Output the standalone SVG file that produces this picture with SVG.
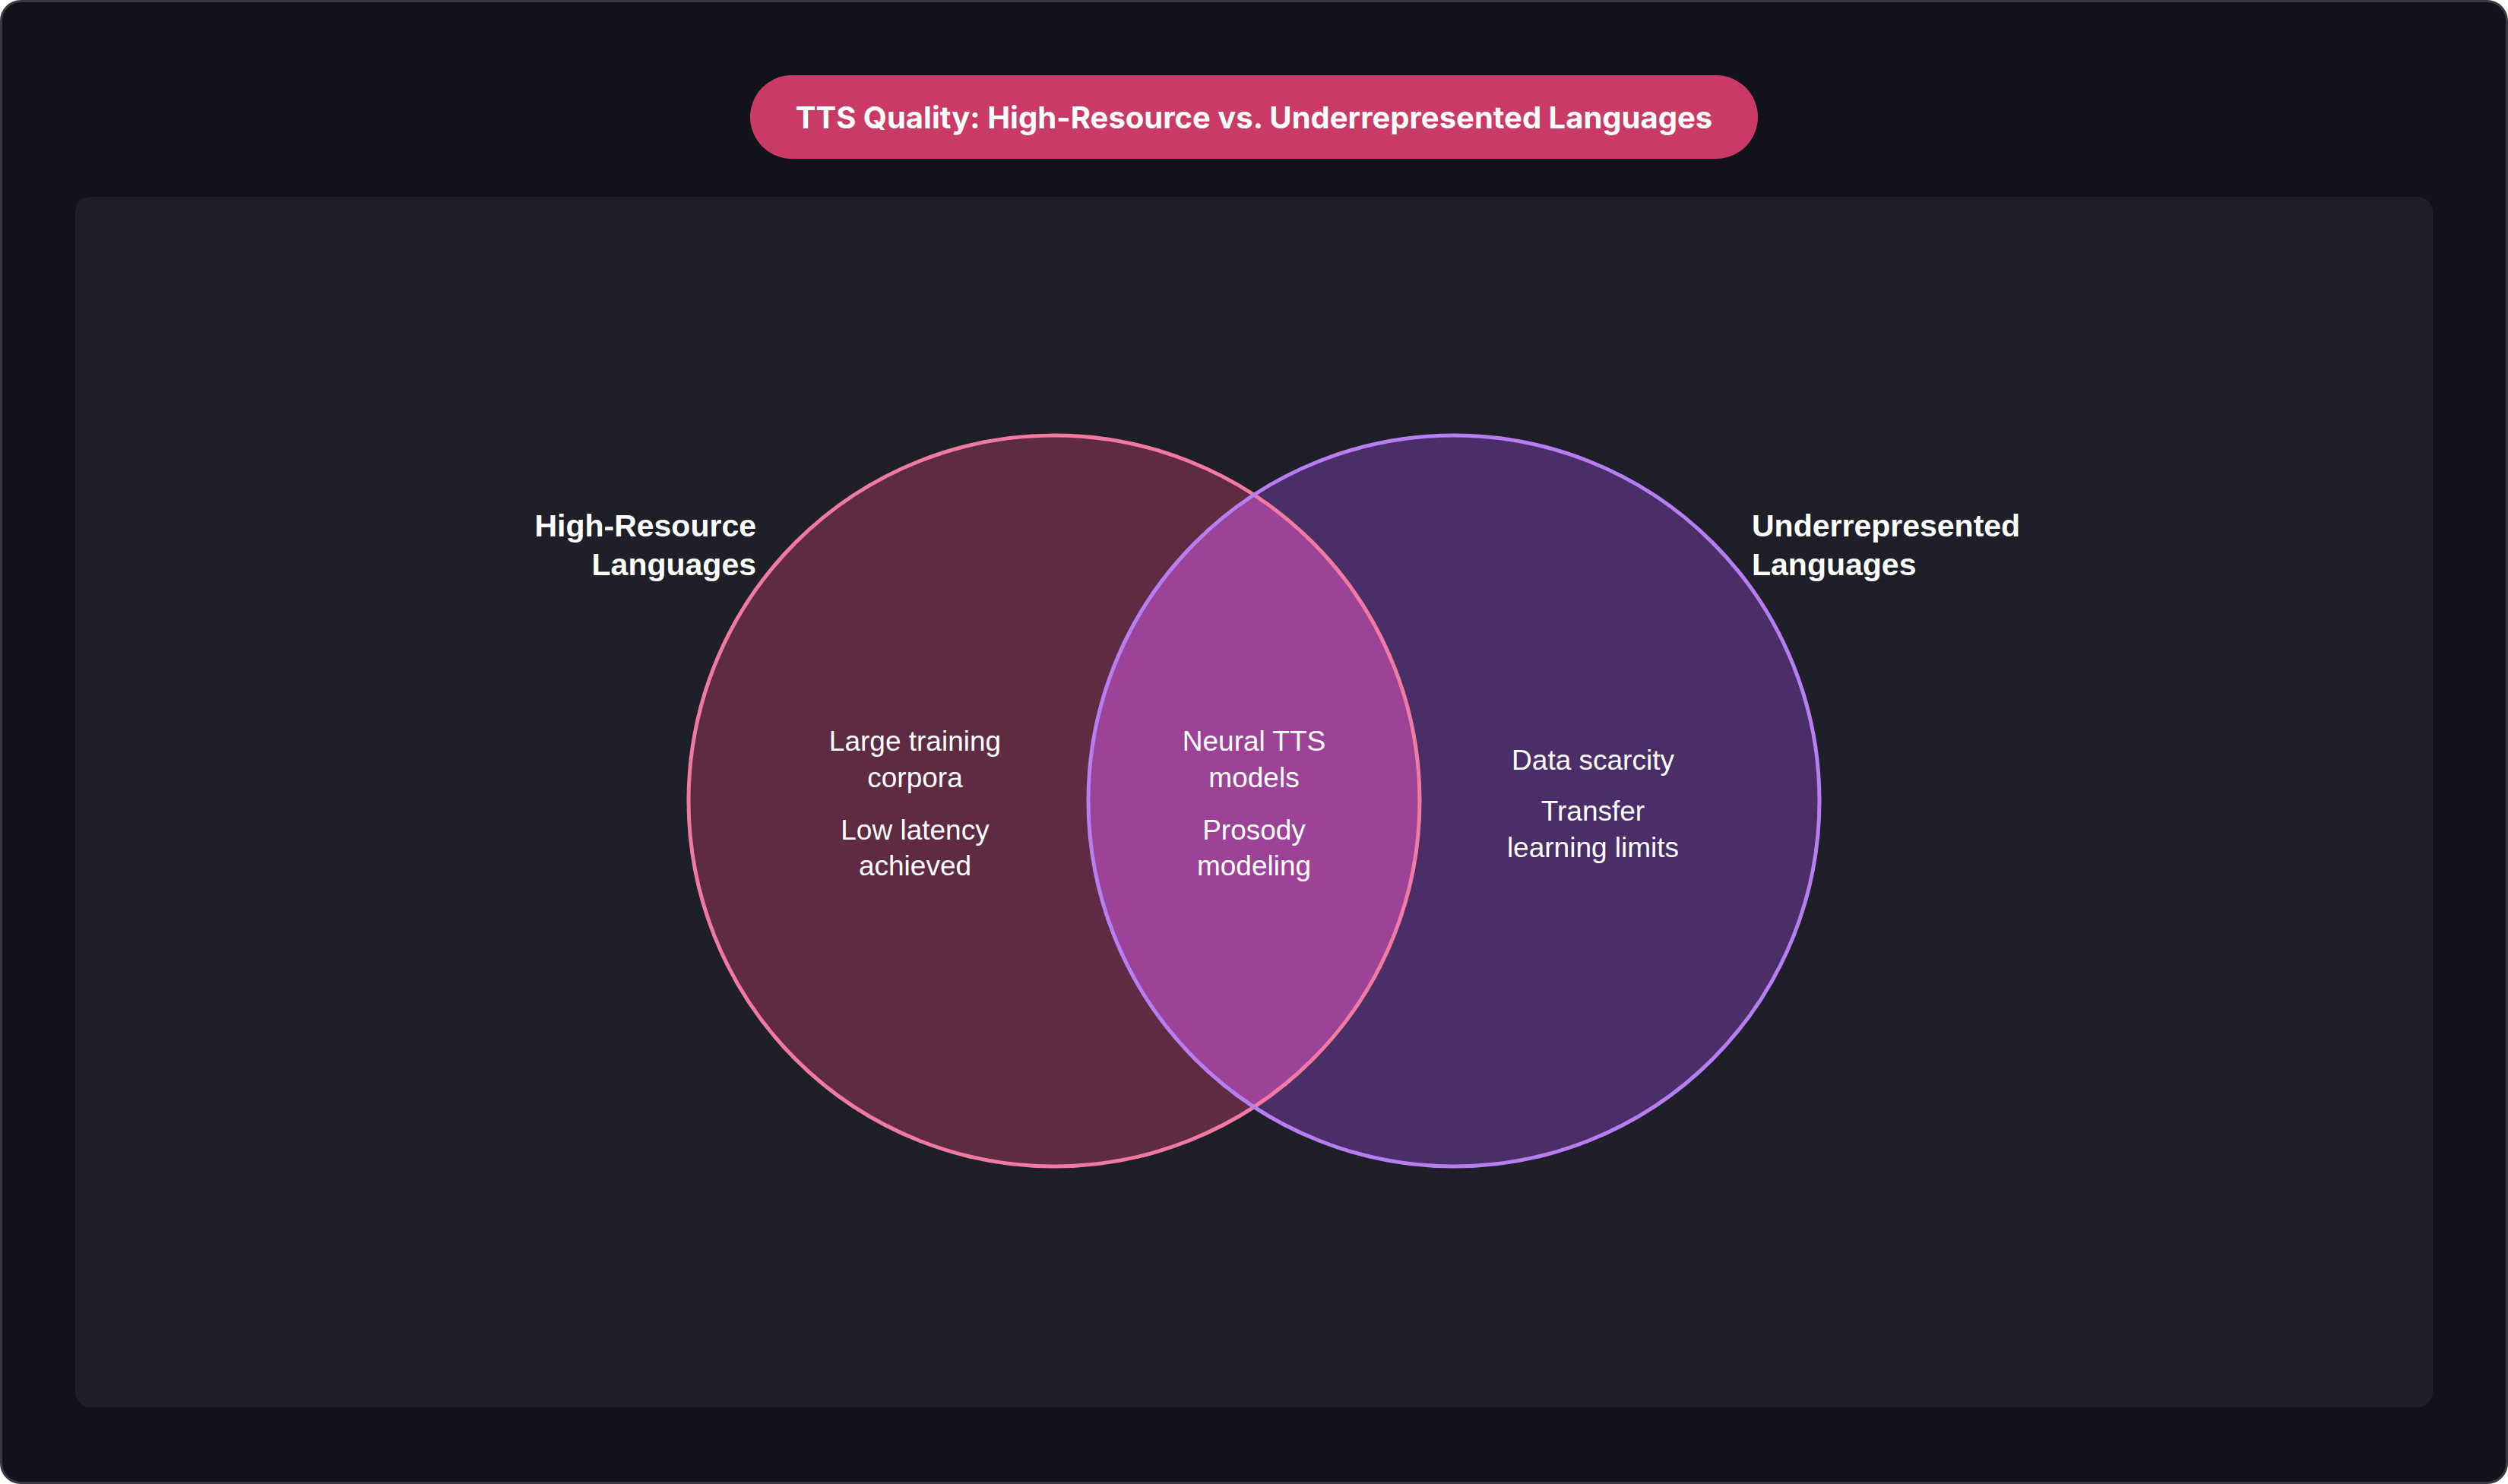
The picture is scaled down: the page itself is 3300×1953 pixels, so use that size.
<svg xmlns="http://www.w3.org/2000/svg" width="3300" height="1953" viewBox="0 0 3300 1953">
<style>
.t{font-family:"Liberation Sans",Arial,sans-serif;font-size:37px;fill:#ffffff;text-anchor:middle;dominant-baseline:central}
.h{font-family:"Liberation Sans",Arial,sans-serif;font-size:41px;font-weight:bold;fill:#ffffff;dominant-baseline:central}
</style>
<rect x="1.5" y="1.5" width="3297" height="1950" rx="26" fill="#12121c" stroke="#3a3a44" stroke-width="3"/>
<rect x="99" y="259" width="3102" height="1593" rx="20" fill="#1e1f28"/>
<g id="title">
<rect x="987" y="99" width="1326" height="110" rx="55" fill="#c93a66"/>
<text x="1650" y="154" font-family="Inter,'Liberation Sans',sans-serif" font-size="40" font-weight="bold" fill="#fff" text-anchor="middle" dominant-baseline="central">TTS Quality: High-Resource vs. Underrepresented Languages</text>
</g>
<g id="set-high">
<circle cx="1387" cy="1054" r="481" fill="#5e2b42"/>
</g>
<g id="set-under">
<circle cx="1913" cy="1054" r="481" fill="#4a2e68"/>
</g>
<g id="overlap">
<path d="M1650,651.3 A481,481 0 0,1 1650,1456.7 A481,481 0 0,1 1650,651.3 Z" fill="#9c4398"/>
</g>
<g id="outlines" fill="none" stroke-width="5">
<circle cx="1387" cy="1054" r="481" stroke="#f07aa3"/>
<circle cx="1913" cy="1054" r="481" stroke="#b77ef2"/>
</g>
<g id="labels">
<text class="h" x="995" y="692" text-anchor="end">High-Resource</text>
<text class="h" x="995" y="743" text-anchor="end">Languages</text>
<text class="h" x="2305" y="692">Underrepresented</text>
<text class="h" x="2305" y="743">Languages</text>
</g>
<g id="high-items">
<text class="t" x="1204" y="975">Large training</text>
<text class="t" x="1204" y="1023">corpora</text>
<text class="t" x="1204" y="1092">Low latency</text>
<text class="t" x="1204" y="1139">achieved</text>
</g>
<g id="shared-items">
<text class="t" x="1650" y="975">Neural TTS</text>
<text class="t" x="1650" y="1023">models</text>
<text class="t" x="1650" y="1092">Prosody</text>
<text class="t" x="1650" y="1139">modeling</text>
</g>
<g id="under-items">
<text class="t" x="2096" y="1000">Data scarcity</text>
<text class="t" x="2096" y="1067">Transfer</text>
<text class="t" x="2096" y="1115">learning limits</text>
</g>
</svg>
